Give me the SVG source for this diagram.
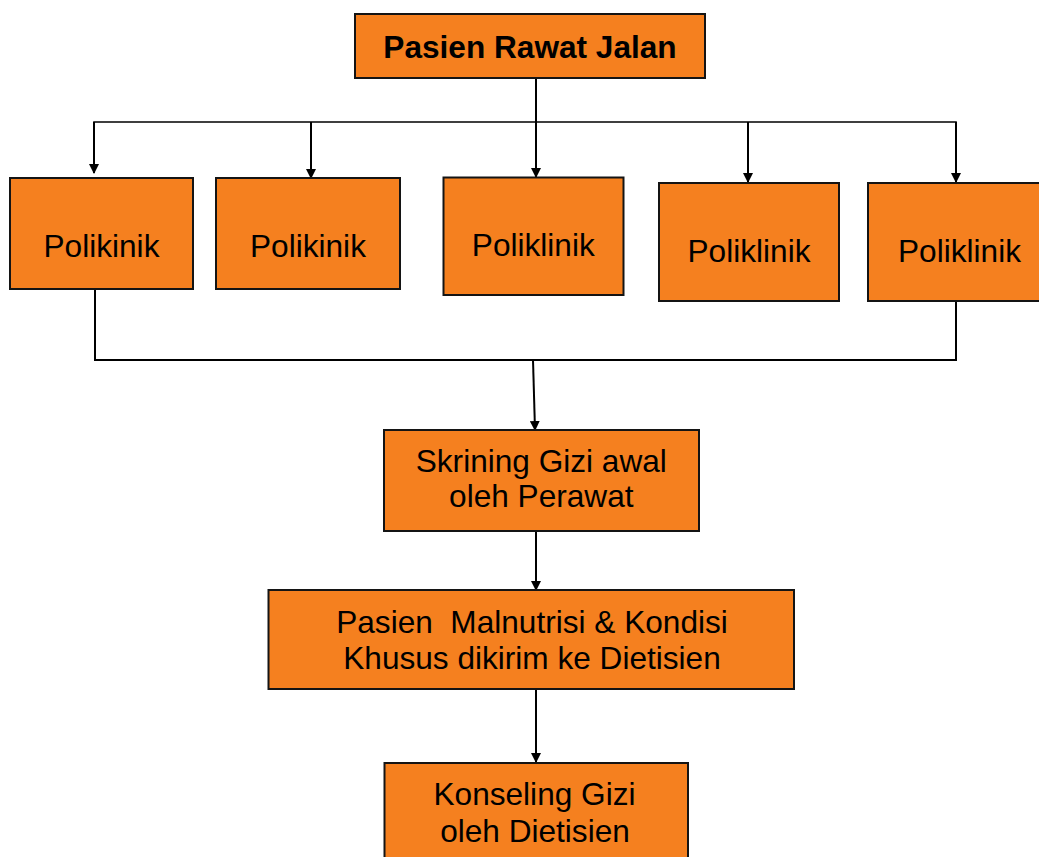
<svg xmlns="http://www.w3.org/2000/svg" width="1039" height="857" viewBox="0 0 1039 857">
<style>
.box{fill:#F5801F;stroke:#141414;stroke-width:2}
.t{font-family:"Liberation Sans",Arial,sans-serif;font-size:31.6px;fill:#000;text-anchor:middle}
.b{font-weight:bold}
.ln{fill:none;stroke:#000;stroke-width:2}
.thin{fill:none;stroke:#000;stroke-width:1.6}
</style>
<defs>
<marker id="ah" markerWidth="10" markerHeight="10" refX="9" refY="5" orient="auto" markerUnits="userSpaceOnUse">
<path d="M0,0 L10,5 L0,10 z" fill="#000"/>
</marker>
</defs>
<rect width="1039" height="857" fill="#fff"/>
<g id="connectors">
<line class="ln" x1="536" y1="78" x2="536" y2="177" marker-end="url(#ah)"/>
<polyline class="thin" points="94,173 94,122 956,122 956,182"/>
<line class="ln" x1="94" y1="122" x2="94" y2="173" marker-end="url(#ah)"/>
<line class="ln" x1="311" y1="122" x2="311" y2="178" marker-end="url(#ah)"/>
<line class="ln" x1="748" y1="122" x2="748" y2="182" marker-end="url(#ah)"/>
<line class="ln" x1="956" y1="122" x2="956" y2="182" marker-end="url(#ah)"/>
<polyline class="ln" points="95,289 95,360 956,360 956,301"/>
<line class="ln" x1="533" y1="360" x2="535" y2="430" marker-end="url(#ah)"/>
<line class="ln" x1="536" y1="531" x2="536" y2="590" marker-end="url(#ah)"/>
<line class="ln" x1="536" y1="689" x2="536" y2="762" marker-end="url(#ah)"/>
</g>
<g id="pasien-rawat-jalan">
<rect class="box" x="355" y="14" width="350" height="64"/>
<text class="t b" x="530" y="58">Pasien Rawat Jalan</text>
</g>
<g id="poli1">
<rect class="box" x="10" y="178" width="183" height="111"/>
<text class="t" x="101.5" y="256.7">Polikinik</text>
</g>
<g id="poli2">
<rect class="box" x="216" y="178" width="184" height="111"/>
<text class="t" x="308" y="256.7">Polikinik</text>
</g>
<g id="poli3">
<rect class="box" x="443.5" y="177.5" width="180" height="117.5"/>
<text class="t" x="533.3" y="256">Poliklinik</text>
</g>
<g id="poli4">
<rect class="box" x="659" y="183" width="180" height="118"/>
<text class="t" x="749" y="261.7">Poliklinik</text>
</g>
<g id="poli5">
<rect class="box" x="868" y="183" width="190" height="118"/>
<text class="t" x="959.5" y="261.7">Poliklinik</text>
</g>
<g id="skrining">
<rect class="box" x="384" y="430" width="315" height="101"/>
<text class="t" x="541.3" y="472">Skrining Gizi awal</text>
<text class="t" x="541.3" y="507">oleh Perawat</text>
</g>
<g id="malnutrisi">
<rect class="box" x="268.5" y="590" width="525.5" height="99"/>
<text class="t" x="532" y="633" xml:space="preserve">Pasien  Malnutrisi &amp; Kondisi</text>
<text class="t" x="532" y="669">Khusus dikirim ke Dietisien</text>
</g>
<g id="konseling">
<rect class="box" x="384.5" y="763" width="303.5" height="110"/>
<text class="t" x="534.5" y="805">Konseling Gizi</text>
<text class="t" x="535" y="841.7">oleh Dietisien</text>
</g>
</svg>
